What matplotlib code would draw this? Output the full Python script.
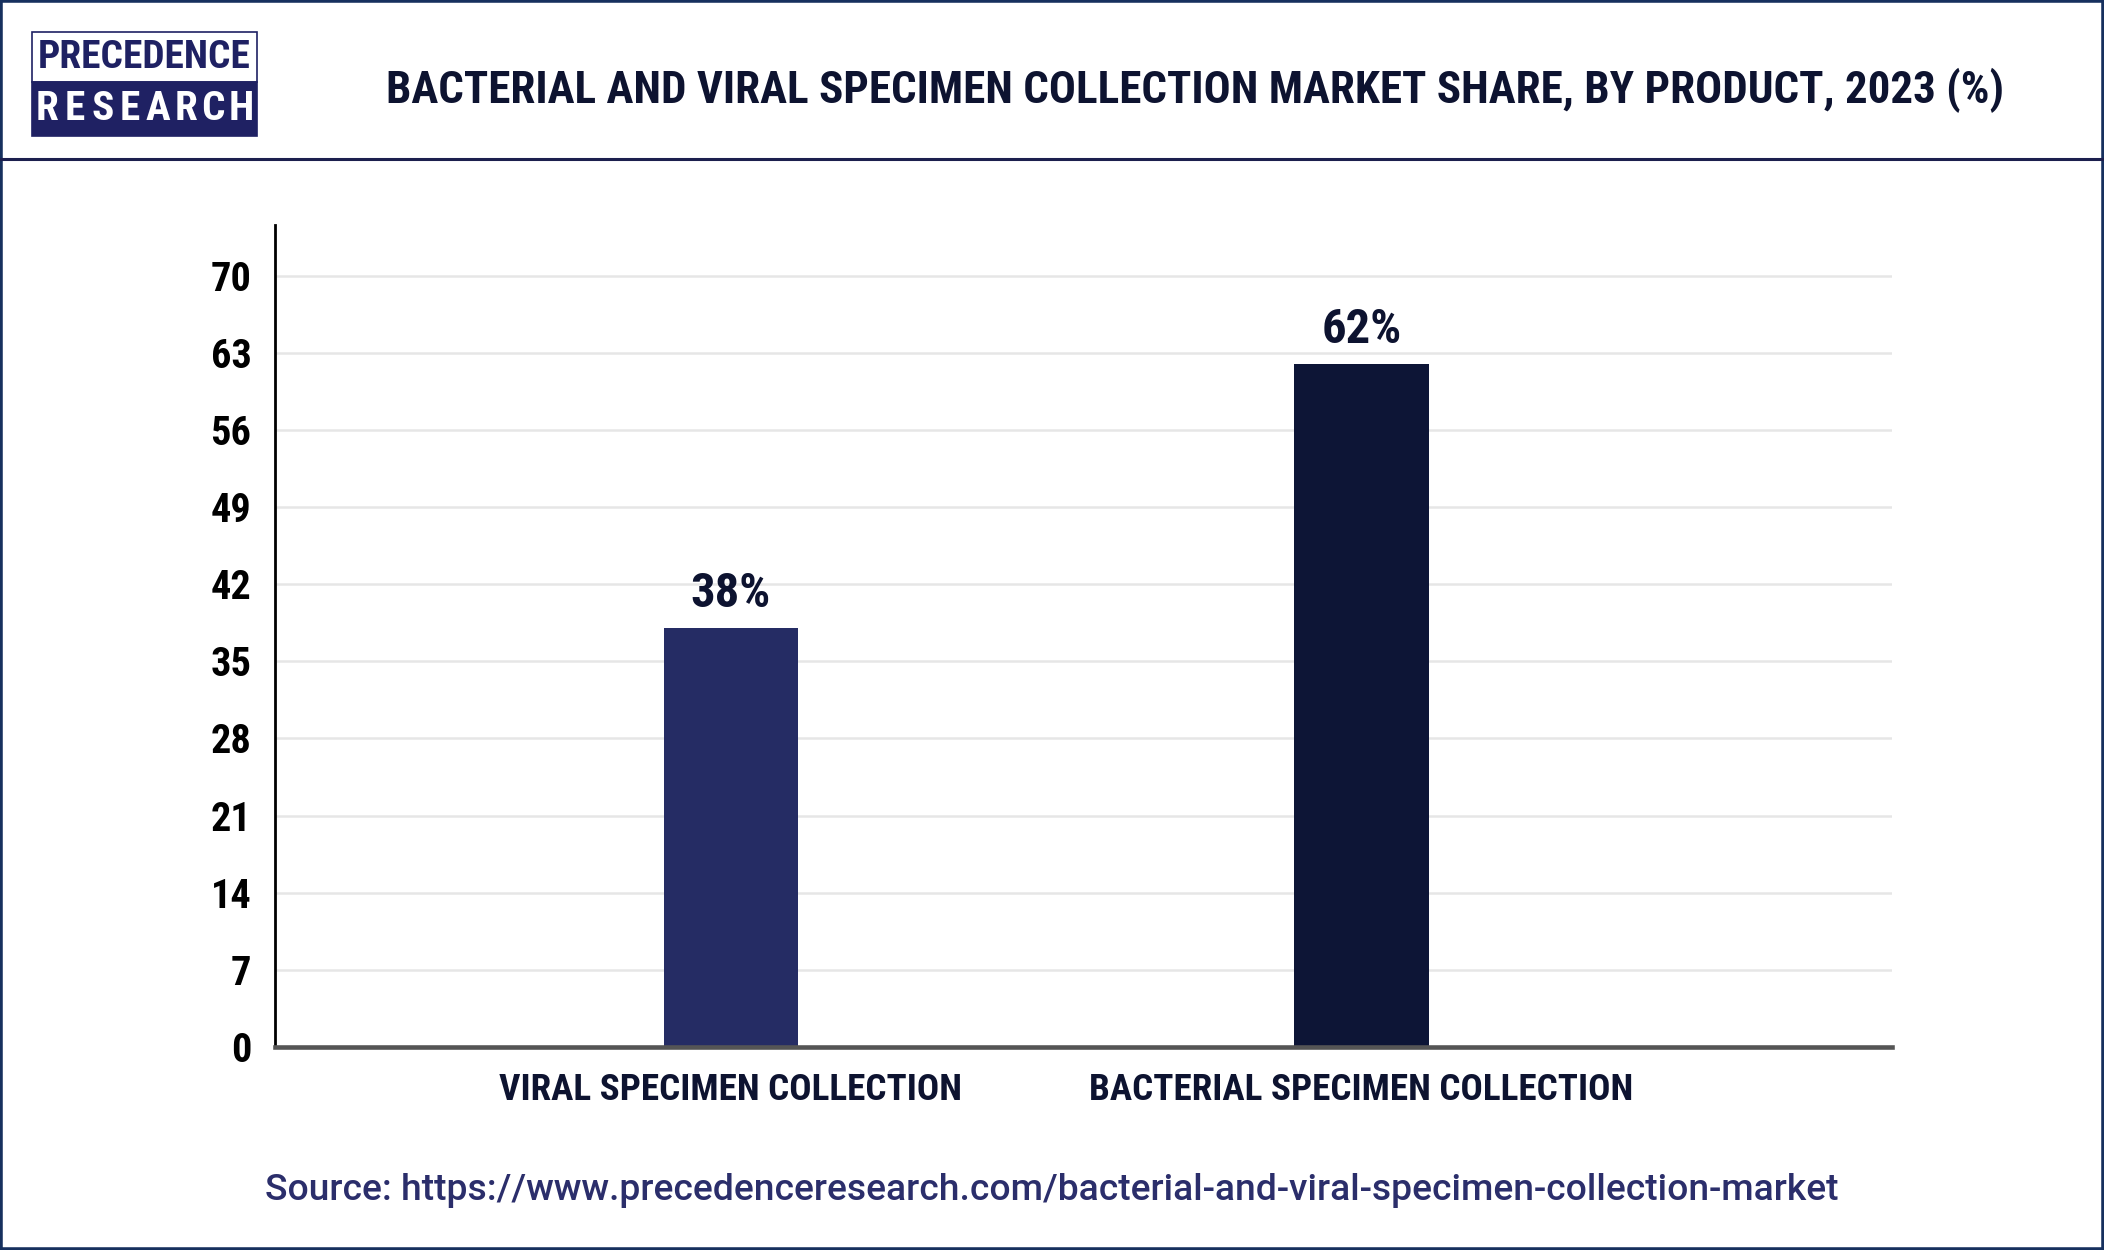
import matplotlib
matplotlib.use('Agg')
import matplotlib.pyplot as plt
from matplotlib import font_manager as fm
from matplotlib.patches import Rectangle
from matplotlib.lines import Line2D

categories = ["VIRAL SPECIMEN COLLECTION", "BACTERIAL SPECIMEN COLLECTION"]
values = [38, 62]
value_labels = ["38%", "62%"]
yticks = [0, 7, 14, 21, 28, 35, 42, 49, 56, 63, 70]
title = "BACTERIAL AND VIRAL SPECIMEN COLLECTION MARKET SHARE, BY PRODUCT, 2023 (%)"
source = "Source: https://www.precedenceresearch.com/bacterial-and-viral-specimen-collection-market"
bar_colors = ["#252c64", "#0d1536"]

W, H = 2104, 1250
fig = plt.figure(figsize=(W / 100, H / 100), dpi=100)
fig.patch.set_facecolor('white')
renderer = fig.canvas.get_renderer()


def pick_condensed():
    prefs = ['liberationsansnarrow-bold', 'robotocondensed-bold', 'dejavusanscondensed-bold',
             'opensanscondensed-bold', 'opensans_condensed-bold', 'notosansdisplay-condensedbold',
             'notosans-condensedbold', 'lato-bold']
    files = {}
    for f in fm.fontManager.ttflist:
        key = f.fname.split('/')[-1].lower().rsplit('.', 1)[0]
        files[key] = f.fname
    for p in prefs:
        if p in files:
            return fm.FontProperties(fname=files[p])
    for k, v in files.items():
        if ('condensed' in k or 'narrow' in k) and 'bold' in k and 'oblique' not in k and 'italic' not in k:
            return fm.FontProperties(fname=v)
    return fm.FontProperties(family='DejaVu Sans', weight='bold')


CFP = pick_condensed()
NAVY = "#0d1330"


def cf(size):
    p = CFP.copy()
    p.set_size(size)
    return p


def fx(px):
    return px / W


def fy(py):
    return 1 - py / H


def fit_size(text, target_w, fp=None, **kw):
    if fp is not None:
        t = fig.text(0, 0, text, fontproperties=cf(30))
    else:
        t = fig.text(0, 0, text, fontsize=30, **kw)
    bb = t.get_window_extent(renderer)
    t.remove()
    return 30 * target_w / bb.width


# Frame and header separator
fig.add_artist(Rectangle((0, 0), 1, 1, transform=fig.transFigure, fill=False,
                         edgecolor="#16305e", linewidth=4))
fig.add_artist(Line2D([0, 1], [fy(159), fy(159)], transform=fig.transFigure,
                      color="#1c1f4e", linewidth=2.2))

# Logo
lx0, lx1, ly0, lsplit, ly1 = 32, 257, 32, 82, 136
fig.add_artist(Rectangle((fx(lx0), fy(lsplit)), fx(lx1 - lx0), (lsplit - ly0) / H,
                         transform=fig.transFigure, facecolor="white",
                         edgecolor="#1f2163", linewidth=1.2))
fig.add_artist(Rectangle((fx(lx0), fy(ly1)), fx(lx1 - lx0), (ly1 - lsplit) / H,
                         transform=fig.transFigure, facecolor="#1f2163",
                         edgecolor="#1f2163", linewidth=1.2))
ps = min(fit_size("PRECEDENCE", 212, fp=True), 36)
fig.text(fx(144), fy(57), "PRECEDENCE", fontproperties=cf(ps),
         color="#1f2163", ha='center', va='center')
research = "RESEARCH"
xs0, xs1 = 47, 241
for i, ch in enumerate(research):
    x = xs0 + (xs1 - xs0) * i / (len(research) - 1)
    fig.text(fx(x), fy(109), ch, fontproperties=cf(ps * 1.05),
             color="white", ha='center', va='center')

# Title
ts = min(fit_size(title, 1614, fp=True), 34)
fig.text(fx(1195), fy(90), title, fontproperties=cf(ts),
         color=NAVY, ha='center', va='center')

# Axes
ax = fig.add_axes([fx(275), 203 / H, (1892 - 275) / W, (1047 - 225) / H])
xpos = list(range(len(categories)))
bars = ax.bar(xpos, values, width=0.213, color=bar_colors, zorder=3)
ax.set_xlim(-0.723, 1.841)
ax.set_ylim(0, 74.6)
ax.set_yticks(yticks)
ax.set_yticklabels([str(v) for v in yticks], fontproperties=cf(29), color='black')
ax.yaxis.grid(True, color="#e6e6e6", linewidth=1.8, zorder=0)
ax.set_axisbelow(True)
for s in ['top', 'right']:
    ax.spines[s].set_visible(False)
ax.spines['left'].set_color('black')
ax.spines['left'].set_linewidth(2.0)
ax.spines['bottom'].set_color('#555555')
ax.spines['bottom'].set_linewidth(3.3)
ax.spines['bottom'].set_zorder(4)
ax.tick_params(axis='both', length=0)
ax.tick_params(axis='y', pad=17)

xs = min(fit_size(categories[0], 464, fp=True),
         fit_size(categories[1], 543, fp=True), 34)
ax.set_xticks(xpos)
ax.set_xticklabels(categories, fontproperties=cf(xs), color=NAVY)
ax.tick_params(axis='x', pad=18)

for b, lab in zip(bars, value_labels):
    ax.annotate(lab, (b.get_x() + b.get_width() / 2, b.get_height()),
                xytext=(0, 8), textcoords='offset points', ha='center', va='bottom',
                fontproperties=cf(35), color=NAVY)

# Source
ss = fit_size(source, 1570, family=['Roboto', 'DejaVu Sans'], weight='medium')
fig.text(fx(1052), fy(1190), source, family=['Roboto', 'DejaVu Sans'], weight='medium',
         fontsize=ss, color="#2b2e6b", ha='center', va='center')

fig.savefig("out.png", dpi=100, facecolor='white')
